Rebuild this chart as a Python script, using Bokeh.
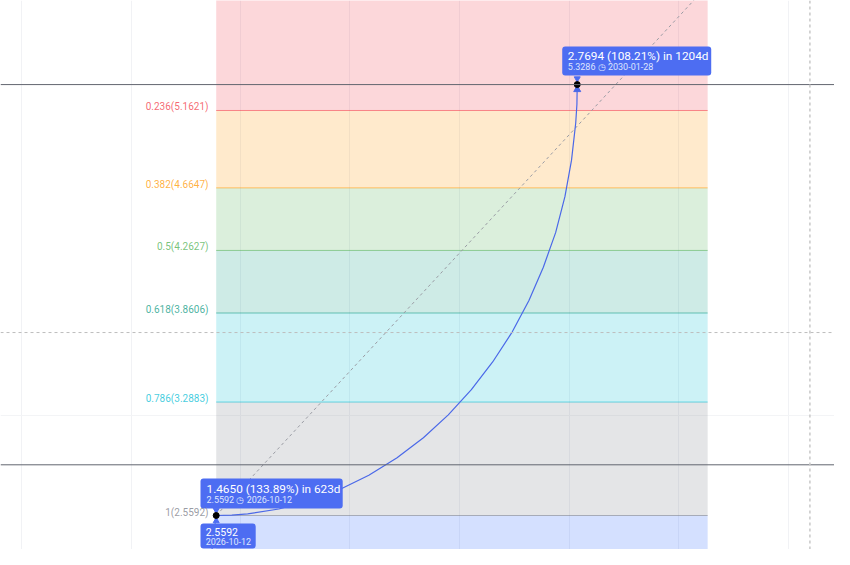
import pandas as pd
from bokeh.plotting import figure
from bokeh.models import Range1d, Label, FixedTicker, Span
from bokeh.embed import file_html
from bokeh.resources import INLINE

# ---------------- data ----------------
anchor_date = "2026-10-12"          # fib point 1 (low)
fib_end_date = "2031-04-08"         # right edge of fib box
level_names = ["0", "0.236", "0.382", "0.5", "0.618", "0.786", "1", "1.618"]
fib_prices = [5.9661, 5.1621, 4.6647, 4.2627, 3.8606, 3.2883, 2.5592, 0.4537]
fib_colors = ["#787B86", "#F23645", "#FF9800", "#4CAF50", "#089981", "#00BCD4", "#787B86", "#2962FF"]

# projected path (days after anchor, price)
curve_days = [-19, -11, 0, 52, 105, 209, 311, 412, 509, 602, 691, 774, 851, 922, 987,
              1043, 1091, 1132, 1163, 1185, 1199, 1203, 1204]
curve_prices = [2.238, 2.399, 2.5592, 2.562, 2.570, 2.601, 2.654, 2.726, 2.818, 2.929,
                3.059, 3.206, 3.368, 3.546, 3.738, 3.941, 4.155, 4.377, 4.608, 4.843,
                5.082, 5.202, 5.3286]

p1_price, p1_date = 2.5592, "2026-10-12"
p2_price, p2_date = 5.3286, "2030-01-28"
box1_lines = ["1.4650 (133.89%) in 623d", "2.5592 \u25F7 2026-10-12"]
box2_lines = ["2.5592", "2026-10-12"]
box3_lines = ["2.7694 (108.21%) in 1204d", "5.3286 \u25F7 2030-01-28"]

hline_prices = [5.3286, 2.885]
dash_hline_price = 3.735
vline_date = "2032-03-14"
year_grid = ["2025-01-01", "2026-01-01", "2027-01-01", "2028-01-01", "2029-01-01",
             "2030-01-01", "2031-01-01", "2032-01-01", "2033-01-01"]
price_grid = [3.2019]

# ---------------- helpers ----------------
a0 = pd.Timestamp(anchor_date)
def days(s):
    return (pd.Timestamp(s) - a0).days

W, H = 834, 549
dx = 3.335           # days per pixel
dy = 1 / 155.6       # price per pixel
x_start = -215.7 * dx
x_end = x_start + W * dx
y_end = p1_price + 515 * dy
y_start = y_end - H * dy

p = figure(width=W, height=H, x_range=Range1d(x_start, x_end), y_range=Range1d(y_start, y_end),
           output_backend="svg", toolbar_location=None, min_border=0,
           x_axis_location=None, y_axis_location=None)
p.outline_line_color = None
p.background_fill_color = "white"
p.xgrid.ticker = FixedTicker(ticks=[days(d) for d in year_grid])
p.ygrid.ticker = FixedTicker(ticks=price_grid)
p.xgrid.grid_line_color = "#f1f2f5"
p.ygrid.grid_line_color = "#f3f4f6"

fe = days(fib_end_date)

# bands
p.quad(left=[0] * 7, right=[fe] * 7, top=fib_prices[:-1], bottom=fib_prices[1:],
       fill_color=fib_colors[1:], fill_alpha=0.2, line_color=None)
# level lines + labels
for name, pr, col in zip(level_names, fib_prices, fib_colors):
    p.line([0, fe], [pr, pr], line_color=col, line_width=1, line_alpha=0.55)
    if y_start < pr < y_end:
        p.add_layout(Label(x=-7.7 * dx, y=pr + 3.5 * dy, text=f"{name}({pr:.4f})",
                           text_align="right", text_baseline="alphabetic",
                           text_font="Roboto", text_font_size="10px",
                           text_color=col, text_alpha=0.75))

# spans
for hp in hline_prices:
    p.add_layout(Span(location=hp, dimension="width", line_color="#62656f", line_width=1))
p.add_layout(Span(location=dash_hline_price, dimension="width", line_color="#bdbdbd",
                  line_width=1, line_dash="3 3"))
p.add_layout(Span(location=days(vline_date), dimension="height", line_color="#c8c8c8",
                  line_width=1.5, line_dash="3 3"))

# trend diagonal
p.line([0, fe], [fib_prices[6], fib_prices[0]], line_color="#9a9ca4", line_width=1,
       line_dash="3 3")

# projected curve
blue = "#4d6df2"
p.line(curve_days, curve_prices, line_color="#4a68e8", line_width=1.2)

x1, x2 = days(p1_date), days(p2_date)
# arrowhead at point 2
p.scatter([x2], [p2_price - 5 * dy], marker="triangle", size=7, color="#4a68e8")

# label boxes (offsets in pixels from anchors)
def box(ax, ay, l, r, t, b):
    p.quad(left=[ax + l * dx], right=[ax + r * dx], top=[ay + t * dy], bottom=[ay + b * dy],
           fill_color=blue, line_color=None, border_radius=3)

box(x1, p1_price, -15.7, 126.5, 37, 7)
box(x1, p1_price, -15.7, 39.5, -8, -33)
box(x2, p2_price, -15, 134, 38, 9)
p.scatter([x1], [p1_price + 5.5 * dy], marker="inverted_triangle", size=6, color=blue)
p.scatter([x1], [p1_price - 5.5 * dy], marker="triangle", size=6, color=blue)
p.scatter([x2], [p2_price + 6 * dy], marker="inverted_triangle", size=6, color=blue)

# dots
p.scatter([x1, x2], [p1_price, p2_price], size=6, color="black")

def txt(ax, ay, ox, oy, s, size, color):
    p.add_layout(Label(x=ax + ox * dx, y=ay + oy * dy, text=s, text_align="left",
                       text_baseline="middle", text_font="Roboto", text_font_size=size,
                       text_color=color))

txt(x1, p1_price, -9.7, 27, box1_lines[0], "11.8px", "white")
txt(x1, p1_price, -9.7, 16, box1_lines[1], "9px", "#dfe6fe")
txt(x1, p1_price, -10.5, -16, box2_lines[0], "10.5px", "white")
txt(x1, p1_price, -10.5, -26, box2_lines[1], "9px", "#dfe6fe")
txt(x2, p2_price, -9.4, 29, box3_lines[0], "11.8px", "white")
txt(x2, p2_price, -9.4, 18, box3_lines[1], "9px", "#dfe6fe")

open("out.html", "w").write(file_html(p, INLINE))
